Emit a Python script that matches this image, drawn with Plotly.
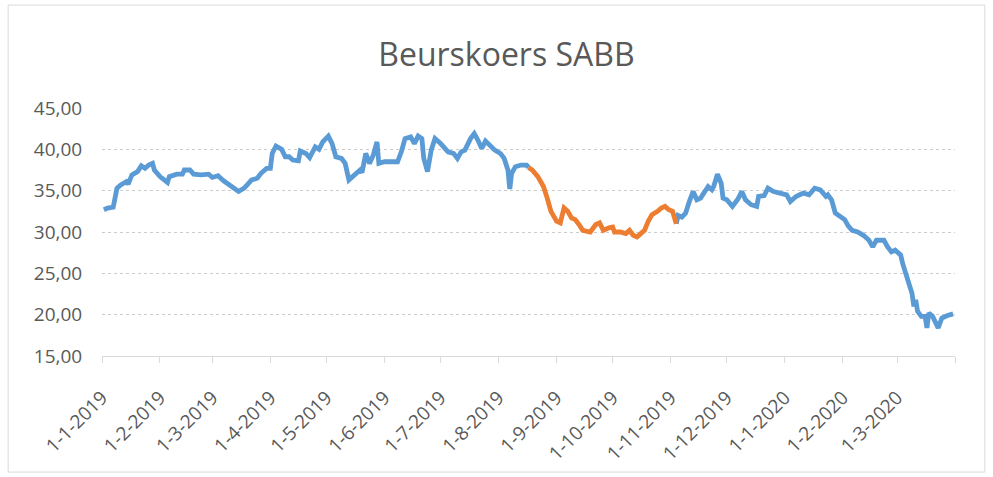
import plotly.graph_objects as go

title_text = "Beurskoers SABB"

blue1_dates = [
    "2019-01-02", "2019-01-04", "2019-01-07", "2019-01-08", "2019-01-09", "2019-01-11",
    "2019-01-14", "2019-01-15", "2019-01-17", "2019-01-20", "2019-01-22", "2019-01-24",
    "2019-01-26", "2019-01-28", "2019-01-29", "2019-02-01", "2019-02-05", "2019-02-06",
    "2019-02-10", "2019-02-13", "2019-02-14", "2019-02-17", "2019-02-19", "2019-02-23",
    "2019-02-27", "2019-03-01", "2019-03-04", "2019-03-07", "2019-03-11", "2019-03-14",
    "2019-03-15", "2019-03-18", "2019-03-22", "2019-03-25", "2019-03-27", "2019-03-30",
    "2019-04-01", "2019-04-02", "2019-04-04", "2019-04-07", "2019-04-09", "2019-04-11",
    "2019-04-13", "2019-04-16", "2019-04-17", "2019-04-20", "2019-04-22", "2019-04-25",
    "2019-04-27", "2019-04-29", "2019-05-02", "2019-05-04", "2019-05-06", "2019-05-09",
    "2019-05-11", "2019-05-13", "2019-05-16", "2019-05-19", "2019-05-20", "2019-05-22",
    "2019-05-24", "2019-05-26", "2019-05-28", "2019-05-29", "2019-06-01", "2019-06-08",
    "2019-06-10", "2019-06-12", "2019-06-15", "2019-06-17", "2019-06-19", "2019-06-21",
    "2019-06-22", "2019-06-24", "2019-06-26", "2019-06-28", "2019-07-01", "2019-07-03",
    "2019-07-05", "2019-07-08", "2019-07-10", "2019-07-12", "2019-07-14", "2019-07-17",
    "2019-07-19", "2019-07-21", "2019-07-23", "2019-07-25", "2019-07-28", "2019-07-30",
    "2019-08-02", "2019-08-04", "2019-08-06", "2019-08-07", "2019-08-08", "2019-08-10",
    "2019-08-13", "2019-08-16", "2019-08-17",
]
blue1_values = [
    32.7, 32.9, 33.0, 34.1, 35.3, 35.7,
    36.1, 35.8, 36.9, 37.3, 38.0, 37.7,
    38.1, 38.3, 37.5, 36.7, 36.0, 36.7,
    37.0, 37.0, 37.5, 37.5, 37.0, 36.9,
    37.0, 36.6, 36.8, 36.2, 35.5, 34.9,
    34.9, 35.3, 36.3, 36.5, 37.1, 37.7,
    37.7, 39.5, 40.4, 40.0, 39.1, 39.1,
    38.7, 38.6, 39.8, 39.5, 39.0, 40.3,
    40.0, 40.9, 41.6, 40.7, 39.1, 38.9,
    38.3, 36.3, 36.9, 37.5, 37.2, 39.5,
    38.3, 39.3, 40.9, 38.3, 38.5, 38.5,
    39.7, 41.3, 41.5, 40.7, 41.6, 41.3,
    38.9, 37.3, 39.9, 41.3, 40.7, 40.1,
    39.7, 39.5, 38.9, 39.7, 39.9, 41.3,
    41.9, 41.1, 40.1, 41.0, 40.3, 39.9,
    39.5, 38.9, 37.5, 35.2, 37.1, 37.9,
    38.1, 38.1, 37.8,
]

orange_dates = [
    "2019-08-17", "2019-08-19", "2019-08-22", "2019-08-25", "2019-08-27", "2019-08-29",
    "2019-09-01", "2019-09-03", "2019-09-05", "2019-09-07", "2019-09-09", "2019-09-11",
    "2019-09-13", "2019-09-15", "2019-09-19", "2019-09-22", "2019-09-24", "2019-09-26",
    "2019-09-29", "2019-10-01", "2019-10-02", "2019-10-05", "2019-10-08", "2019-10-10",
    "2019-10-12", "2019-10-14", "2019-10-16", "2019-10-18", "2019-10-20", "2019-10-22",
    "2019-10-25", "2019-10-27", "2019-10-29", "2019-10-31", "2019-11-02", "2019-11-03",
    "2019-11-04",
]
orange_values = [
    37.8, 37.5, 36.7, 35.5, 34.1, 32.5,
    31.3, 31.1, 32.9, 32.5, 31.7, 31.5,
    30.9, 30.2, 30.0, 30.9, 31.1, 30.2,
    30.5, 30.6, 30.0, 30.0, 29.8, 30.2,
    29.6, 29.4, 29.8, 30.2, 31.3, 32.1,
    32.5, 32.9, 33.1, 32.7, 32.5, 31.9,
    31.0,
]

blue2_dates = [
    "2019-11-04", "2019-11-05", "2019-11-07", "2019-11-09", "2019-11-11", "2019-11-13",
    "2019-11-15", "2019-11-17", "2019-11-21", "2019-11-23", "2019-11-24", "2019-11-26",
    "2019-11-28", "2019-11-29", "2019-12-01", "2019-12-04", "2019-12-07", "2019-12-09",
    "2019-12-11", "2019-12-14", "2019-12-17", "2019-12-18", "2019-12-21", "2019-12-23",
    "2019-12-26", "2019-12-29", "2020-01-02", "2020-01-04", "2020-01-07", "2020-01-09",
    "2020-01-11", "2020-01-14", "2020-01-17", "2020-01-20", "2020-01-23", "2020-01-24",
    "2020-01-26", "2020-01-28", "2020-01-31", "2020-02-02", "2020-02-04", "2020-02-06",
    "2020-02-09", "2020-02-12", "2020-02-15", "2020-02-17", "2020-02-19", "2020-02-23",
    "2020-02-25", "2020-02-27", "2020-02-29", "2020-03-03", "2020-03-04", "2020-03-07",
    "2020-03-09", "2020-03-10", "2020-03-11", "2020-03-12", "2020-03-14", "2020-03-16",
    "2020-03-17", "2020-03-18", "2020-03-20", "2020-03-23", "2020-03-25", "2020-03-28",
    "2020-03-31",
]
blue2_values = [
    31.0, 32.0, 31.8, 32.3, 33.7, 34.9,
    33.9, 34.1, 35.5, 35.1, 35.5, 37.0,
    35.9, 34.1, 33.9, 33.1, 34.0, 34.9,
    33.9, 33.3, 33.1, 34.3, 34.4, 35.3,
    34.9, 34.7, 34.5, 33.7, 34.3, 34.5,
    34.7, 34.5, 35.3, 35.1, 34.3, 34.5,
    33.9, 32.3, 31.9, 31.5, 30.7, 30.2,
    30.0, 29.6, 29.0, 28.2, 29.0, 29.0,
    28.2, 27.6, 27.8, 27.2, 26.2, 24.2,
    22.6, 21.0, 21.8, 20.4, 19.8, 19.8,
    18.4, 20.2, 19.8, 18.4, 19.6, 19.9,
    20.1,
]

tick_dates = [
    "2019-01-01", "2019-02-01", "2019-03-01", "2019-04-01", "2019-05-01", "2019-06-01",
    "2019-07-01", "2019-08-01", "2019-09-01", "2019-10-01", "2019-11-01", "2019-12-01",
    "2020-01-01", "2020-02-01", "2020-03-01", "2020-04-01",
]
tick_labels = [
    "1-1-2019", "1-2-2019", "1-3-2019", "1-4-2019", "1-5-2019", "1-6-2019",
    "1-7-2019", "1-8-2019", "1-9-2019", "1-10-2019", "1-11-2019", "1-12-2019",
    "1-1-2020", "1-2-2020", "1-3-2020", "",
]

BLUE = "#5B9BD5"
ORANGE = "#ED7D31"
TEXT = "#595959"
FONT = "Open Sans"
LW = 4.8

fig = go.Figure()
fig.add_trace(go.Scatter(x=blue1_dates, y=blue1_values, mode="lines",
                         line=dict(color=BLUE, width=LW), showlegend=False))
fig.add_trace(go.Scatter(x=blue2_dates, y=blue2_values, mode="lines",
                         line=dict(color=BLUE, width=LW), showlegend=False))
fig.add_trace(go.Scatter(x=orange_dates, y=orange_values, mode="lines",
                         line=dict(color=ORANGE, width=LW), showlegend=False))

fig.update_layout(
    width=993, height=477,
    margin=dict(l=102, r=38, t=108, b=121, autoexpand=False),
    paper_bgcolor="white", plot_bgcolor="white",
    separators=",.",
    font=dict(family=FONT, color=TEXT, size=18),
    title=dict(text=title_text, x=0.51, xanchor="center", y=0.885, yanchor="middle",
               font=dict(family=FONT, size=32, color=TEXT)),
    shapes=[dict(type="rect", xref="paper", yref="paper",
                 x0=-0.110, x1=1.035, y0=-0.468, y1=1.415,
                 line=dict(color="#d9d9d9", width=1), layer="below")],
)
fig.update_xaxes(
    type="date",
    range=["2019-01-01", "2020-04-01"],
    tickmode="array", tickvals=tick_dates, ticktext=tick_labels,
    tickangle=-45,
    showgrid=False,
    showline=True, linecolor="#d9d9d9", linewidth=1,
    ticks="outside", ticklen=6, tickcolor="#d9d9d9",
    ticklabelstandoff=16,
    tickfont=dict(family=FONT, size=19, color=TEXT),
    zeroline=False,
)
fig.update_yaxes(
    range=[15, 45], dtick=5, tick0=15,
    tickformat=".2f",
    showgrid=True, gridcolor="#cccccc", griddash="dot", gridwidth=1,
    showline=False, zeroline=False,
    ticks="outside", ticklen=15, tickcolor="rgba(0,0,0,0)",
    tickfont=dict(family=FONT, size=19, color=TEXT),
)

fig.write_html("out.html", config={"displayModeBar": False},
               post_script="document.body.style.margin='0';")
